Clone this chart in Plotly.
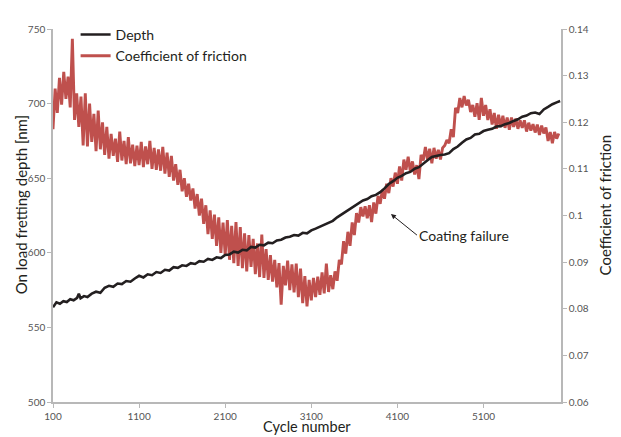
import plotly.graph_objects as go

# ---------------- data ----------------
depth_cycles = [100, 140, 180, 220, 260, 300, 340, 380, 400, 420, 460, 500, 550, 600, 650, 700,
                750, 800, 850, 900, 950, 1000, 1050, 1100, 1150, 1200, 1250, 1300, 1350, 1400,
                1450, 1500, 1550, 1600, 1650, 1700, 1750, 1800, 1850, 1900, 1950, 2000, 2050,
                2100, 2150, 2200, 2250, 2300, 2350, 2400, 2450, 2500, 2550, 2600, 2650, 2700,
                2750, 2800, 2850, 2900, 2950, 3000, 3050, 3100, 3150, 3200, 3250, 3300, 3350,
                3400, 3450, 3500, 3550, 3600, 3650, 3700, 3750, 3800, 3850, 3900, 3950, 4000,
                4050, 4100, 4150, 4200, 4250, 4300, 4350, 4400, 4450, 4500, 4550, 4600, 4650,
                4700, 4750, 4800, 4850, 4900, 4950, 5000, 5050, 5100, 5150, 5200, 5250, 5300,
                5350, 5400, 5450, 5500, 5550, 5600, 5650, 5700, 5750, 5800, 5850, 5900, 5950, 5990]
depth_nm = [563.5, 566.8, 565.9, 567.6, 567.0, 568.9, 568.2, 569.8, 572.6, 569.5, 571.0, 570.4,
            572.6, 573.9, 573.2, 576.6, 577.9, 577.2, 579.4, 579.0, 581.1, 580.6, 582.8, 584.6,
            583.5, 585.6, 585.0, 587.1, 586.5, 588.6, 588.1, 590.4, 589.9, 591.6, 591.2, 593.0,
            592.5, 594.4, 594.0, 595.9, 595.2, 597.0, 596.5, 598.6, 598.9, 600.8, 600.2, 602.0,
            601.6, 603.9, 603.5, 605.4, 605.0, 606.8, 606.4, 608.3, 608.8, 610.2, 610.8, 611.9,
            611.5, 613.4, 613.0, 615.0, 616.2, 617.5, 619.0, 620.6, 621.4, 623.8, 625.6, 627.5,
            629.6, 631.2, 632.9, 635.1, 636.0, 637.9, 638.8, 640.6, 643.2, 646.1, 648.0, 650.3,
            651.6, 653.4, 654.2, 656.4, 657.4, 659.9, 662.0, 664.2, 665.0, 665.6, 665.9, 666.8,
            669.5, 671.2, 673.8, 676.0, 677.0, 679.3, 679.8, 681.6, 682.4, 683.1, 684.6, 684.9,
            686.2, 687.0, 688.4, 689.5, 691.2, 692.0, 693.6, 694.0, 693.0, 696.1, 697.8, 699.6,
            700.8, 701.7]

cof_cycles = [
    100, 125, 150, 175, 200, 225, 250, 275,
    300, 325, 350, 375, 400, 425, 450, 475,
    500, 525, 550, 575, 600, 625, 650, 675,
    700, 725, 750, 775, 800, 825, 850, 875,
    900, 925, 950, 975, 1000, 1025, 1050, 1075,
    1100, 1125, 1150, 1175, 1200, 1225, 1250, 1275,
    1300, 1325, 1350, 1375, 1400, 1425, 1450, 1475,
    1500, 1525, 1550, 1575, 1600, 1625, 1650, 1675,
    1700, 1725, 1750, 1775, 1800, 1825, 1850, 1875,
    1900, 1925, 1950, 1975, 2000, 2025, 2050, 2075,
    2100, 2125, 2150, 2175, 2200, 2225, 2250, 2275,
    2300, 2325, 2350, 2375, 2400, 2425, 2450, 2475,
    2500, 2525, 2550, 2575, 2600, 2625, 2650, 2675,
    2700, 2725, 2750, 2775, 2800, 2825, 2850, 2875,
    2900, 2925, 2950, 2975, 3000, 3025, 3050, 3075,
    3100, 3125, 3150, 3175, 3200, 3225, 3250, 3275,
    3300, 3325, 3350, 3375, 3400, 3425, 3450, 3475,
    3500, 3525, 3550, 3575, 3600, 3625, 3650, 3675,
    3700, 3725, 3750, 3775, 3800, 3825, 3850, 3875,
    3900, 3925, 3950, 3975, 4000, 4025, 4050, 4075,
    4100, 4125, 4150, 4175, 4200, 4225, 4250, 4275,
    4300, 4325, 4350, 4375, 4400, 4425, 4450, 4475,
    4500, 4525, 4550, 4575, 4600, 4625, 4650, 4675,
    4700, 4725, 4750, 4775, 4800, 4825, 4850, 4875,
    4900, 4925, 4950, 4975, 5000, 5025, 5050, 5075,
    5100, 5125, 5150, 5175, 5200, 5225, 5250, 5275,
    5300, 5325, 5350, 5375, 5400, 5425, 5450, 5475,
    5500, 5525, 5550, 5575, 5600, 5625, 5650, 5675,
    5700, 5725, 5750, 5775, 5800, 5825, 5850, 5875,
    5900, 5925, 5950, 5975]
cof = [
    0.1185, 0.1272, 0.1220, 0.1295, 0.1238, 0.1308, 0.1250, 0.1298,
    0.1232, 0.1379, 0.1205, 0.1262, 0.1190, 0.1255, 0.1150, 0.1262,
    0.1148, 0.1240, 0.1158, 0.1218, 0.1138, 0.1225, 0.1142, 0.1200,
    0.1130, 0.1190, 0.1122, 0.1175, 0.1128, 0.1165, 0.1115, 0.1180,
    0.1118, 0.1160, 0.1110, 0.1168, 0.1112, 0.1152, 0.1106, 0.1150,
    0.1108, 0.1158, 0.1104, 0.1148, 0.1110, 0.1160, 0.1100, 0.1145,
    0.1098, 0.1142, 0.1096, 0.1147, 0.1090, 0.1135, 0.1083, 0.1128,
    0.1075, 0.1110, 0.1066, 0.1098, 0.1052, 0.1080, 0.1040, 0.1068,
    0.1032, 0.1058, 0.1015, 0.1046, 0.1000, 0.1036, 0.0982, 0.1022,
    0.0960, 0.1011, 0.0950, 0.1002, 0.0935, 0.0996, 0.0920, 0.0985,
    0.0915, 0.0990, 0.0905, 0.0978, 0.0898, 0.0986, 0.0892, 0.0975,
    0.0887, 0.0962, 0.0880, 0.0958, 0.0890, 0.0950, 0.0874, 0.0940,
    0.0868, 0.0959, 0.0866, 0.0928, 0.0862, 0.0915, 0.0858, 0.0905,
    0.0846, 0.0898, 0.0809, 0.0892, 0.0850, 0.0903, 0.0840, 0.0895,
    0.0835, 0.0897, 0.0825, 0.0886, 0.0812, 0.0870, 0.0805, 0.0862,
    0.0818, 0.0866, 0.0825, 0.0869, 0.0830, 0.0878, 0.0833, 0.0897,
    0.0836, 0.0872, 0.0842, 0.0880, 0.0860, 0.0905, 0.0895, 0.0945,
    0.0918, 0.0965, 0.0935, 0.0985, 0.0958, 0.1005, 0.0985, 0.1018,
    0.0998, 0.1020, 0.0994, 0.1022, 0.0986, 0.1028, 0.1004, 0.1042,
    0.1025, 0.1055, 0.1036, 0.1068, 0.1048, 0.1080, 0.1062, 0.1092,
    0.1068, 0.1105, 0.1075, 0.1120, 0.1098, 0.1126, 0.1095, 0.1116,
    0.1088, 0.1108, 0.1078, 0.1130, 0.1118, 0.1147, 0.1120, 0.1143,
    0.1112, 0.1145, 0.1122, 0.1141, 0.1120, 0.1145, 0.1150, 0.1162,
    0.1155, 0.1185, 0.1168, 0.1231, 0.1220, 0.1252, 0.1232, 0.1256,
    0.1236, 0.1248, 0.1222, 0.1237, 0.1212, 0.1241, 0.1205, 0.1252,
    0.1214, 0.1237, 0.1205, 0.1228, 0.1195, 0.1220, 0.1186, 0.1216,
    0.1190, 0.1214, 0.1188, 0.1210, 0.1184, 0.1210, 0.1190, 0.1208,
    0.1186, 0.1204, 0.1188, 0.1204, 0.1180, 0.1199, 0.1182, 0.1196,
    0.1178, 0.1195, 0.1173, 0.1193, 0.1176, 0.1189, 0.1160, 0.1179,
    0.1155, 0.1179, 0.1165, 0.1176]

x_ticks = [100, 1100, 2100, 3100, 4100, 5100]
depth_ticks = [500, 550, 600, 650, 700, 750]
cof_ticks = [0.06, 0.07, 0.08, 0.09, 0.1, 0.11, 0.12, 0.13, 0.14]
cof_tick_labels = ["0.06", "0.07", "0.08", "0.09", "0.1", "0.11", "0.12", "0.13", "0.14"]
note_x, note_y = 4025, 0.1003  # point the "Coating failure" arrow indicates (cycles, COF)

# ---------------- figure ----------------
# The page body adds an 8px margin, so the figure is 8px smaller and the
# left/top margins 8px smaller to land the plot area where the reference has it.
FONT = "Lato, 'Open Sans', sans-serif"
AXIS_C = "#b8b8b8"
TICK_C = "#555555"
TEXT_C = "#231f20"

fig = go.Figure()
fig.add_trace(go.Scatter(x=depth_cycles, y=depth_nm, name="Depth", mode="lines",
                         line=dict(color="#231f20", width=2.6), yaxis="y2"))
fig.add_trace(go.Scatter(x=cof_cycles, y=cof, name="Coefficient of friction", mode="lines",
                         line=dict(color="#bf504d", width=2.9), yaxis="y"))

axis_common = dict(showgrid=False, zeroline=False, showline=True, linecolor=AXIS_C,
                   linewidth=1.5, ticks="outside", tickcolor=AXIS_C, ticklen=4,
                   tickfont=dict(size=10, color=TICK_C), automargin=False)

fig.update_layout(
    width=613, height=429,
    margin=dict(l=45, r=60, t=11, b=35),
    paper_bgcolor="white", plot_bgcolor="white",
    font=dict(family=FONT, color=TEXT_C),
    showlegend=True,
    legend=dict(x=0.0445, y=1.027, xanchor="left", yanchor="top", bgcolor="rgba(0,0,0,0)",
                font=dict(size=14, color=TEXT_C), itemwidth=30, tracegroupgap=0),
    xaxis=dict(range=[100, 6000], tickvals=x_ticks, **axis_common),
    yaxis=dict(range=[0.06, 0.14], tickvals=cof_ticks, ticktext=cof_tick_labels, side="right",
               **axis_common),
    yaxis2=dict(range=[500, 750], tickvals=depth_ticks, overlaying="y", side="left",
                **axis_common),
)

title_font = dict(size=15, color=TEXT_C, family=FONT)
# axis titles as paper annotations, positioned like the reference
fig.add_annotation(x=0.5, y=-0.0914, xref="paper", yref="paper", text="Cycle number",
                   showarrow=False, xanchor="center", yanchor="bottom", borderpad=0,
                   font=dict(size=14.5, color=TEXT_C, family=FONT))
fig.add_annotation(x=-0.063, y=0.53, xref="paper", yref="paper",
                   text="On load fretting depth [nm]", textangle=-90, borderpad=0,
                   showarrow=False, xanchor="center", yanchor="middle", font=title_font)
fig.add_annotation(x=1.0866, y=0.527, xref="paper", yref="paper",
                   text="Coefficient of friction", textangle=-90, borderpad=0,
                   showarrow=False, xanchor="center", yanchor="middle", font=title_font)

fig.add_annotation(x=note_x, y=note_y, xref="x", yref="y", text="Coating failure",
                   showarrow=True, arrowhead=2, arrowsize=1, arrowwidth=1, arrowcolor=TEXT_C,
                   ax=26, ay=21, xanchor="left", yanchor="middle",
                   font=dict(size=14, color=TEXT_C, family=FONT))

fig.write_html("out.html")
